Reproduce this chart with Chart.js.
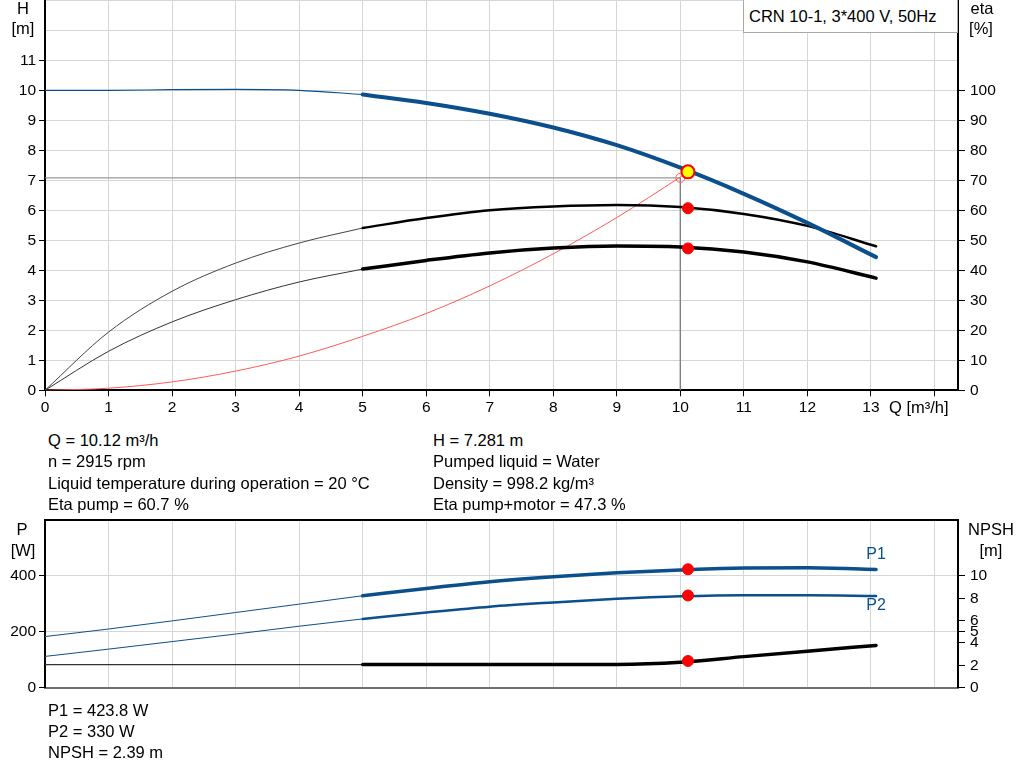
<!DOCTYPE html>
<html>
<head>
<meta charset="utf-8">
<script src="https://cdn.jsdelivr.net/npm/chart.js@4.4.0/dist/chart.umd.min.js"></script>
<style>
  body { margin: 0; background: #fff; font-family: "Liberation Sans", Arial, sans-serif; font-size: 16.5px; color: #000; }
  #page { position: relative; width: 1024px; height: 781px; overflow: hidden; }
  canvas { position: absolute; left: 0; }
  .t { position: absolute; white-space: nowrap; line-height: 20px; z-index: 2; }
  .c { transform: translateX(-50%); }
  #legend { position: absolute; left: 743px; top: -1px; width: 215px; height: 34px; border: 1px solid #a8a8a8;
            background: #fff; z-index: 3; box-sizing: border-box; padding-left: 5px; line-height: 32px; }
</style>
</head>
<body>
<div id="page">
  <canvas id="topChart" width="1024" height="420" style="top:0"></canvas>
  <canvas id="bottomChart" width="1024" height="197" style="top:505px"></canvas>

  <div id="legend">CRN 10-1, 3*400 V, 50Hz</div>

  <div class="t c" style="left:23px;top:-2px">H</div>
  <div class="t c" style="left:23px;top:18px">[m]</div>
  <div class="t c" style="left:982px;top:-2px">eta</div>
  <div class="t c" style="left:981px;top:18px">[%]</div>
  <div class="t" style="left:889px;top:397px">Q [m³/h]</div>

  <div class="t" style="left:48px;top:430px">Q = 10.12 m³/h</div>
  <div class="t" style="left:48px;top:451px">n = 2915 rpm</div>
  <div class="t" style="left:48px;top:473px">Liquid temperature during operation = 20 °C</div>
  <div class="t" style="left:48px;top:494px">Eta pump = 60.7 %</div>
  <div class="t" style="left:433px;top:430px">H = 7.281 m</div>
  <div class="t" style="left:433px;top:451px">Pumped liquid = Water</div>
  <div class="t" style="left:433px;top:473px">Density = 998.2 kg/m³</div>
  <div class="t" style="left:433px;top:494px">Eta pump+motor = 47.3 %</div>

  <div class="t c" style="left:22px;top:519px">P</div>
  <div class="t c" style="left:23px;top:540px">[W]</div>
  <div class="t c" style="left:991px;top:519px">NPSH</div>
  <div class="t c" style="left:991px;top:540px">[m]</div>

  <div class="t" style="left:48px;top:700px">P1 = 423.8 W</div>
  <div class="t" style="left:48px;top:721px">P2 = 330 W</div>
  <div class="t" style="left:48px;top:742px">NPSH = 2.39 m</div>
</div>

<script>
// flow points, thin part (outside range) and thick part (operating range)
const flowLow = [0, 1, 2, 3, 4, 5];
const flowHigh = [5, 6, 7, 8, 9, 10, 11, 12, 13.08];

// head H [m]
const headLow = [10.0, 10.0, 10.02, 10.03, 10.0, 9.86];
const headHigh = [9.86, 9.58, 9.22, 8.76, 8.17, 7.42, 6.55, 5.58, 4.44];

// efficiencies [%]
const etaPumpLow = [0, 19.4, 33, 42.4, 49.1, 54.1];
const etaPumpHigh = [54.1, 57.4, 60, 61.3, 61.8, 61.1, 58.8, 54.8, 48];
const etaTotalLow = [0, 13, 22.8, 30.2, 36.1, 40.4];
const etaTotalHigh = [40.4, 43.3, 45.8, 47.4, 48.1, 47.8, 46.1, 42.8, 37.4];

// system curve (thin red)
const flowSystem = [0, 1, 2, 3, 4, 5, 6, 7, 8, 9, 10, 10.12];
const headSystem = [0, 0.07, 0.28, 0.64, 1.14, 1.8, 2.56, 3.48, 4.55, 5.76, 7.11, 7.28];

// power [W] and NPSH [m]
const p1Low = [183, 210, 239, 269, 299, 329];
const p1High = [329, 355, 379, 397, 411, 421, 428, 429, 423];
const p2Low = [112, 138, 165, 192, 220, 246];
const p2High = [246, 269, 290, 305, 318, 327, 331, 331, 328];
const npshLow = [2.07, 2.07, 2.07, 2.07, 2.07, 2.07];
const npshHigh = [2.07, 2.07, 2.07, 2.07, 2.08, 2.28, 2.78, 3.27, 3.78];

// duty point
const dutyFlow = 10.12;
const dutyHead = 7.281;
const dutyEtaPump = 60.7;
const dutyEtaTotal = 47.3;
const dutyP1 = 423.8;
const dutyP2 = 330;
const dutyNpsh = 2.39;

// guide lines to the requested point
const guideFlow = [0, 10, 10];
const guideHead = [7.08, 7.08, 0];

// axis ticks
const qTicks = [0, 1, 2, 3, 4, 5, 6, 7, 8, 9, 10, 11, 12, 13, 14];
const hTicks = [0, 1, 2, 3, 4, 5, 6, 7, 8, 9, 10, 11, 12, 13];
const etaTicks = [0, 10, 20, 30, 40, 50, 60, 70, 80, 90, 100];
const pTicks = [0, 200, 400, 600];
const npshTicks = [0, 2, 4, 5, 6, 8, 10];

const blue = '#0b4f8c';
const gridCol = '#d6d6d6';
const fontSpec = { family: '"Liberation Sans", Arial, sans-serif', size: 15.5 };

const pts = (xs, ys) => xs.map((x, i) => ({ x: x, y: ys[i] }));
const setTicks = list => scale => { scale.ticks = list.map(v => ({ value: v })); };
const fitWidth = w => s => { s.width = w; };
const fitHeight = h => s => { s.height = h; };

function curve(xs, ys, color, width, axis) {
  return {
    data: pts(xs, ys), borderColor: color, borderWidth: width, yAxisID: axis,
    pointRadius: 0, fill: false, cubicInterpolationMode: 'monotone', borderCapStyle: 'round'
  };
}
function dot(x, y, axis, fillCol, borderCol, r, bw) {
  return {
    data: [{ x: x, y: y }], yAxisID: axis, showLine: false,
    pointRadius: r, pointBackgroundColor: fillCol, pointBorderColor: borderCol, pointBorderWidth: bw
  };
}

const xMax = 14.37;

// ---------- top chart: H and eta ----------
const topCanvas = document.getElementById('topChart');
const topChart = new Chart(topCanvas, {
  type: 'line',
  data: {
    datasets: [
      dot(dutyFlow, dutyHead, 'y', '#ffff00', '#ff0000', 6.5, 2),
      dot(dutyFlow, dutyEtaPump, 'eta', '#ff0000', '#ff0000', 5.5, 1),
      dot(dutyFlow, dutyEtaTotal, 'eta', '#ff0000', '#ff0000', 5.5, 1),
      dot(guideFlow[1], guideHead[1], 'y', 'rgba(0,0,0,0)', '#ff6060', 4.5, 1),
      curve(flowHigh, headHigh, blue, 4, 'y'),
      curve(flowLow, headLow, blue, 1.2, 'y'),
      curve(flowHigh, etaPumpHigh, '#000', 2.5, 'eta'),
      curve(flowLow, etaPumpLow, '#444', 1, 'eta'),
      curve(flowHigh, etaTotalHigh, '#000', 3.5, 'eta'),
      curve(flowLow, etaTotalLow, '#333', 1, 'eta'),
      curve(flowSystem, headSystem, '#ff5a5a', 1, 'y'),
      { data: pts(guideFlow, guideHead), borderColor: '#808080', borderWidth: 1, yAxisID: 'y', pointRadius: 0, tension: 0 }
    ]
  },
  options: {
    responsive: false, maintainAspectRatio: false, animation: false, devicePixelRatio: 1,
    layout: { padding: 0 },
    plugins: { legend: { display: false }, tooltip: { enabled: false } },
    scales: {
      x: {
        type: 'linear', min: 0, max: xMax,
        afterBuildTicks: setTicks(qTicks),
        afterFit: fitHeight(30),
        grid: { color: gridCol, tickColor: '#000', tickLength: 6 },
        border: { color: '#000', width: 2 },
        ticks: { font: fontSpec, color: '#000', padding: 2, maxRotation: 0, autoSkip: false,
                 callback: v => (v <= 13 ? v : '') }
      },
      y: {
        type: 'linear', position: 'left', min: 0, max: 13,
        afterBuildTicks: setTicks(hTicks),
        afterFit: fitWidth(45),
        grid: { color: gridCol, tickLength: 6,
                tickColor: ctx => (ctx.tick && ctx.tick.value > 11 ? 'rgba(0,0,0,0)' : '#000') },
        border: { color: '#000', width: 2 },
        ticks: { font: fontSpec, color: '#000', padding: 3, autoSkip: false,
                 callback: v => (v <= 11 ? v : '') }
      },
      eta: {
        type: 'linear', position: 'right', min: 0, max: 130,
        afterBuildTicks: setTicks(etaTicks),
        afterFit: fitWidth(66),
        grid: { drawOnChartArea: false, tickColor: '#000', tickLength: 7 },
        border: { color: '#000', width: 2 },
        ticks: { font: fontSpec, color: '#000', padding: 5, autoSkip: false }
      }
    }
  }
});

// the library keeps some room above the plot for the top label; grow the canvas
// by that much and slide it up so the plot runs from the page top down to y=390
const topGap = topChart.chartArea.top;
if (topGap > 0) {
  topChart.resize(1024, 420 + topGap);
  topCanvas.style.top = (-topChart.chartArea.top) + 'px';
}

// ---------- bottom chart: P and NPSH ----------
const curveLabels = {
  id: 'curveLabels',
  afterDatasetsDraw(chart) {
    const ctx = chart.ctx, xs = chart.scales.x, ys = chart.scales.y;
    const xEnd = xs.getPixelForValue(flowHigh[flowHigh.length - 1]);
    ctx.save();
    ctx.font = '16px "Liberation Sans", Arial, sans-serif';
    ctx.fillStyle = blue;
    ctx.textAlign = 'center';
    ctx.textBaseline = 'middle';
    ctx.fillText('P1', xEnd, ys.getPixelForValue(p1High[p1High.length - 1]) - 15);
    ctx.fillText('P2', xEnd, ys.getPixelForValue(p2High[p2High.length - 1]) + 10);
    ctx.restore();
  }
};

new Chart(document.getElementById('bottomChart'), {
  type: 'line',
  data: {
    datasets: [
      dot(dutyFlow, dutyP1, 'y', '#ff0000', '#ff0000', 5.5, 1),
      dot(dutyFlow, dutyP2, 'y', '#ff0000', '#ff0000', 5.5, 1),
      dot(dutyFlow, dutyNpsh, 'npsh', '#ff0000', '#ff0000', 5.5, 1),
      curve(flowHigh, p1High, blue, 3.5, 'y'),
      curve(flowLow, p1Low, blue, 1, 'y'),
      curve(flowHigh, p2High, blue, 2.5, 'y'),
      curve(flowLow, p2Low, blue, 1, 'y'),
      curve(flowHigh, npshHigh, '#000', 3.5, 'npsh'),
      curve(flowLow, npshLow, '#333', 1.2, 'npsh')
    ]
  },
  options: {
    responsive: false, maintainAspectRatio: false, animation: false, devicePixelRatio: 1,
    layout: { padding: { top: 15, left: 0, right: 0, bottom: 0 } },
    plugins: { legend: { display: false }, tooltip: { enabled: false } },
    scales: {
      x: {
        type: 'linear', min: 0, max: xMax,
        afterBuildTicks: setTicks(qTicks),
        afterFit: fitHeight(13),
        grid: { color: gridCol, drawTicks: false },
        border: { color: '#707070', width: 2 },
        ticks: { display: false }
      },
      y: {
        type: 'linear', position: 'left', min: 0, max: 600,
        afterBuildTicks: setTicks(pTicks),
        afterFit: fitWidth(45),
        grid: {
          color: ctx => (ctx.tick && ctx.tick.value === 600 ? '#000' : gridCol),
          lineWidth: ctx => (ctx.tick && ctx.tick.value === 600 ? 2 : 1),
          tickLength: 6,
          tickColor: ctx => (ctx.tick && ctx.tick.value === 600 ? 'rgba(0,0,0,0)' : '#000')
        },
        border: { color: '#000', width: 2 },
        ticks: { font: fontSpec, color: '#000', padding: 3, autoSkip: false,
                 callback: v => (v < 600 ? v : '') }
      },
      npsh: {
        type: 'linear', position: 'right', min: 0, max: 15,
        afterBuildTicks: setTicks(npshTicks),
        afterFit: fitWidth(66),
        grid: { drawOnChartArea: false, tickColor: '#000', tickLength: 7 },
        border: { color: '#000', width: 2 },
        ticks: { font: fontSpec, color: '#000', padding: 5, autoSkip: false }
      }
    }
  },
  plugins: [curveLabels]
});
</script>
</body>
</html>
